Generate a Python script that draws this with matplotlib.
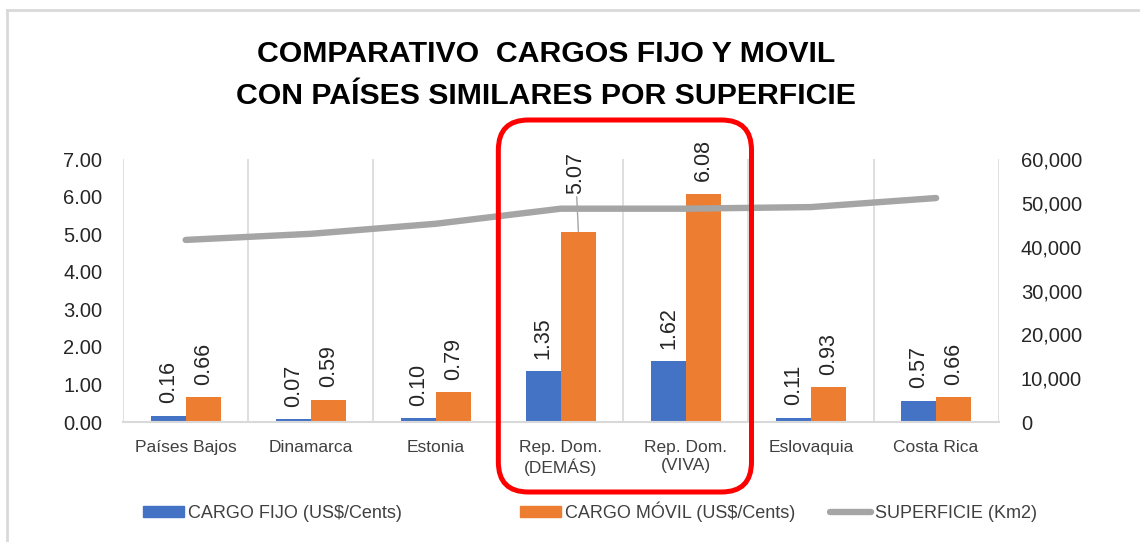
import numpy as np
import matplotlib as mpl
import matplotlib.pyplot as plt
from matplotlib.patches import Patch, FancyBboxPatch
from matplotlib.lines import Line2D
from matplotlib.transforms import IdentityTransform
from matplotlib.ticker import FuncFormatter

mpl.rcParams['font.family'] = ['Liberation Sans', 'DejaVu Sans']

paises = ['Países Bajos', 'Dinamarca', 'Estonia', 'Rep. Dom.\n(DEMÁS)',
          'Rep. Dom.\n(VIVA)', 'Eslovaquia', 'Costa Rica']
cargo_fijo = [0.16, 0.07, 0.10, 1.35, 1.62, 0.11, 0.57]
cargo_movil = [0.66, 0.59, 0.79, 5.07, 6.08, 0.93, 0.66]
superficie = [41543, 42933, 45228, 48671, 48671, 49035, 51100]

azul = '#4472C4'
naranja = '#ED7D31'
gris = '#A5A5A5'
rejilla = '#D9D9D9'
texto = '#404040'

fig = plt.figure(figsize=(11.4, 5.42), dpi=100)
ax = fig.add_axes([0.108, 0.2214, 0.768, 0.4852])
ax2 = ax.twinx()

x = np.arange(len(paises))
w = 0.28
ax.bar(x - w / 2, cargo_fijo, w, color=azul, zorder=2)
ax.bar(x + w / 2, cargo_movil, w, color=naranja, zorder=2)
ax2.plot(x, superficie, color=gris, lw=4.6, solid_capstyle='round', zorder=3)

# etiquetas de datos
for xi, v in zip(x - w / 2, cargo_fijo):
    ax.annotate(f'{v:.2f}', xy=(xi, v), xytext=(0, 9), textcoords='offset points',
                rotation=90, ha='center', va='bottom', fontsize=15.5, color='#262626')
for i, (xi, v) in enumerate(zip(x + w / 2, cargo_movil)):
    if i == 3:
        ax.annotate(f'{v:.2f}', xy=(xi, v), xytext=(-2, 27), textcoords='offset points',
                    rotation=90, ha='center', va='bottom', fontsize=15.5, color='#262626',
                    arrowprops=dict(arrowstyle='-', color=gris, lw=1, shrinkA=0, shrinkB=0),
                    zorder=4)
    else:
        ax.annotate(f'{v:.2f}', xy=(xi, v), xytext=(0, 9), textcoords='offset points',
                    rotation=90, ha='center', va='bottom', fontsize=15.5, color='#262626')

ax.set_xlim(-0.5, len(paises) - 0.5)
ax.set_ylim(0, 7)
ax2.set_ylim(0, 60000)
ax.set_yticks(np.arange(0, 7.01, 1))
ax.yaxis.set_major_formatter(FuncFormatter(lambda v, p: f'{v:.2f}'))
ax2.set_yticks(np.arange(0, 60001, 10000))
ax2.yaxis.set_major_formatter(FuncFormatter(lambda v, p: f'{v:,.0f}'))

ax.set_xticks(x)
ax.set_xticklabels(paises, fontsize=12.5, color=texto, linespacing=1.25)
ax.set_xticks(np.arange(-0.5, len(paises)), minor=True)
ax.grid(which='minor', axis='x', color=rejilla, lw=1.2, zorder=0)
ax.tick_params(axis='x', which='both', length=0, pad=13)
ax.tick_params(axis='y', length=0, pad=15, labelsize=14.5, labelcolor='#262626')
ax2.tick_params(axis='y', length=0, pad=16, labelsize=14.5, labelcolor='#262626')

for a in (ax, ax2):
    for s in a.spines.values():
        s.set_visible(False)
ax.spines['bottom'].set_visible(True)
ax.spines['bottom'].set_color(rejilla)
ax.spines['bottom'].set_linewidth(1.5)

fig.text(0.479, 0.9, 'COMPARATIVO  CARGOS FIJO Y MOVIL', ha='center', va='center',
         fontsize=21.8, fontweight='bold', color='black')
fig.text(0.479, 0.822, 'CON PAÍSES SIMILARES POR SUPERFICIE', ha='center', va='center',
         fontsize=21.8, fontweight='bold', color='black')

# leyenda
items = [
    (Patch(color=azul), 'CARGO FIJO (US$/Cents)', 0.1254),
    (Patch(color=naranja), 'CARGO MÓVIL (US$/Cents)', 0.456),
    (Line2D([0], [0], color=gris, lw=4.6, solid_capstyle='round'), 'SUPERFICIE (Km2)', 0.728),
]
for h, lab, xpos in items:
    fig.legend(handles=[h], labels=[lab], loc='lower left', bbox_to_anchor=(xpos, 0.037),
               frameon=False, fontsize=13, handlelength=2.3, handleheight=0.55,
               handletextpad=0.2, borderpad=0, borderaxespad=0, labelcolor=texto)

# borde del gráfico
fig.add_artist(Line2D([7 / 1140, 1], [1 - 10 / 542, 1 - 10 / 542], color=rejilla, lw=2))
fig.add_artist(Line2D([7 / 1140, 7 / 1140], [0, 1 - 10 / 542], color=rejilla, lw=2))

# recuadro rojo alrededor de Rep. Dom.
x0 = ax.transData.transform((2.5, 0))[0]
x1 = ax.transData.transform((4.5, 0))[0] + 3
caja = FancyBboxPatch((x0, 50), x1 - x0, 372, boxstyle='round,pad=0,rounding_size=30',
                      transform=IdentityTransform(), fill=False, ec='#FF0000', lw=3.6)
fig.add_artist(caja)

fig.savefig('out.png', dpi=100)
